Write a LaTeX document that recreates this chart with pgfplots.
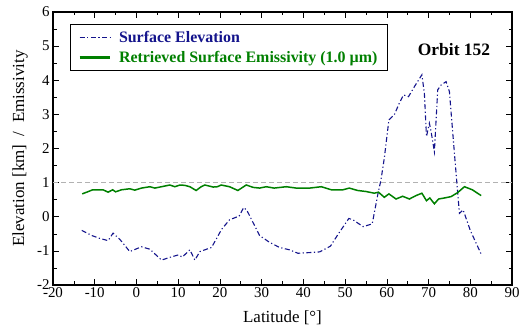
\documentclass[border=0pt]{standalone}
\usepackage{pgfplots}
\pgfplotsset{compat=1.18}
\usepackage{fontspec}
\setmainfont{Liberation Serif}
\definecolor{elev}{RGB}{20,20,140}
\definecolor{emis}{RGB}{0,128,0}
\begin{document}
\begin{tikzpicture}[x=1bp,y=1bp]
\begin{axis}[
  scale only axis,
  width=459bp, height=273bp,
  xmin=-20, xmax=90, ymin=-2, ymax=6,
  xtick distance=10, ytick distance=1,
  minor x tick num=1, minor y tick num=1,
  tick align=inside,
  major tick length=6bp, minor tick length=3.5bp,
  axis line style={line width=1.2pt},
  every tick/.style={black, line width=0.6pt},
  tick label style={font=\fontsize{15}{17}\selectfont},
  /pgf/number format/assume math mode=true,
  xlabel={Latitude [°]},
  ylabel={Elevation [km]\ \ /\ \ Emissivity},
  every axis x label/.style={at={(axis description cs:0.5,-0.121)}, anchor=center, font=\fontsize{17}{19}\selectfont},
  every axis y label/.style={at={(axis description cs:-0.0719,0.5)}, rotate=90, anchor=center, font=\fontsize{17}{19}\selectfont},
  xticklabel style={yshift=1bp},
  legend style={at={(0.037,0.956)}, anchor=north west, draw=black, line width=0.9pt,
    font=\fontsize{16}{18}\selectfont\bfseries, inner xsep=8bp, inner ysep=5bp,
    row sep=3bp, /tikz/every odd column/.append style={column sep=6bp}},
  legend cell align=left,
  clip=false,
]
\addplot[gray!60, line width=0.9pt, dash pattern=on 5bp off 3bp, forget plot] coordinates {(-20,1) (90,1)};
\addplot[elev, line width=1.1pt, dash pattern=on 5bp off 2.5bp on 1.2bp off 2.5bp,
  legend image code/.code={\draw[elev, line width=1.2pt, dash pattern=on 5bp off 2.5bp on 1.2bp off 2.5bp] (0bp,0bp) -- (30bp,0bp);}] coordinates {
(-13.1,-0.40) (-10.7,-0.55) (-8.9,-0.63) (-6.8,-0.70) (-5.6,-0.48) (-4.0,-0.66)
(-1.6,-1.02) (1.2,-0.88) (3.2,-0.95) (6.0,-1.27) (8.0,-1.19) (10.0,-1.12)
(11.0,-1.18) (12.8,-0.97) (14.0,-1.27) (15.2,-1.02) (18.0,-0.90) (20.4,-0.37)
(22.3,-0.09) (24.6,0.02) (25.7,0.27) (26.5,0.18) (29.5,-0.55) (31.9,-0.75)
(34.3,-0.90) (36.7,-0.97) (38.7,-1.07) (41.5,-1.05) (43.9,-1.03) (46.5,-0.86)
(48.5,-0.48) (50.9,-0.05) (51.9,-0.09) (54.3,-0.29) (56.5,-0.21) (57.9,0.69)
(58.6,1.08) (59.4,1.72) (60.5,2.84) (61.8,2.99) (63.0,3.33) (64.0,3.57)
(65.2,3.52) (66.6,3.81) (68.4,4.16) (69.0,3.62) (69.5,2.35) (70.2,2.74)
(70.6,2.50) (71.4,1.91) (72.2,3.72) (73.0,3.86) (74.2,3.96) (75.0,3.67)
(76.2,1.86) (77.4,0.10) (78.3,0.20) (80.0,-0.40) (82.7,-1.12)
};
\addlegendentry{\textcolor{elev}{Surface Elevation}}
\addplot[emis, line width=1.5pt,
  legend image code/.code={\draw[emis, line width=2.6pt] (0bp,0bp) -- (30bp,0bp);}] coordinates {
(-13.0,0.67) (-11.5,0.74) (-10.5,0.79) (-8.0,0.79) (-6.8,0.72) (-5.7,0.79)
(-5.0,0.73) (-3.6,0.79) (-1.6,0.82) (-0.4,0.78) (1.2,0.84) (3.2,0.88)
(4.4,0.84) (6.0,0.88) (8.0,0.93) (9.2,0.88) (10.4,0.93) (11.6,0.92)
(12.8,0.88) (14.3,0.77) (15.5,0.88) (16.4,0.93) (18.4,0.87) (19.4,0.88)
(20.3,0.93) (22.3,0.88) (24.3,0.77) (26.3,0.93) (28.0,0.86) (29.5,0.84)
(31.1,0.88) (33.0,0.84) (35.9,0.88) (38.3,0.84) (41.5,0.84) (44.3,0.88)
(46.7,0.79) (49.5,0.79) (51.0,0.84) (53.0,0.77) (55.0,0.74) (57.0,0.69)
(58.0,0.72) (59.4,0.57) (60.5,0.67) (62.2,0.52) (63.8,0.60) (65.4,0.52)
(67.0,0.62) (68.4,0.69) (69.5,0.47) (70.3,0.55) (71.4,0.38) (72.4,0.52)
(73.8,0.55) (75.4,0.59) (77.0,0.71) (78.6,0.88) (80.5,0.79) (82.6,0.62)
};
\addlegendentry{\textcolor{emis}{Retrieved Surface Emissivity (1.0 µm)}}
\node[font=\fontsize{17.5}{19}\selectfont\bfseries, anchor=center] at (axis cs:76.1,4.89) {Orbit 152};
\end{axis}
\pgfresetboundingbox
\path[use as bounding box] (-53bp,-44bp) rectangle (470bp,285bp);
\end{tikzpicture}
\end{document}
